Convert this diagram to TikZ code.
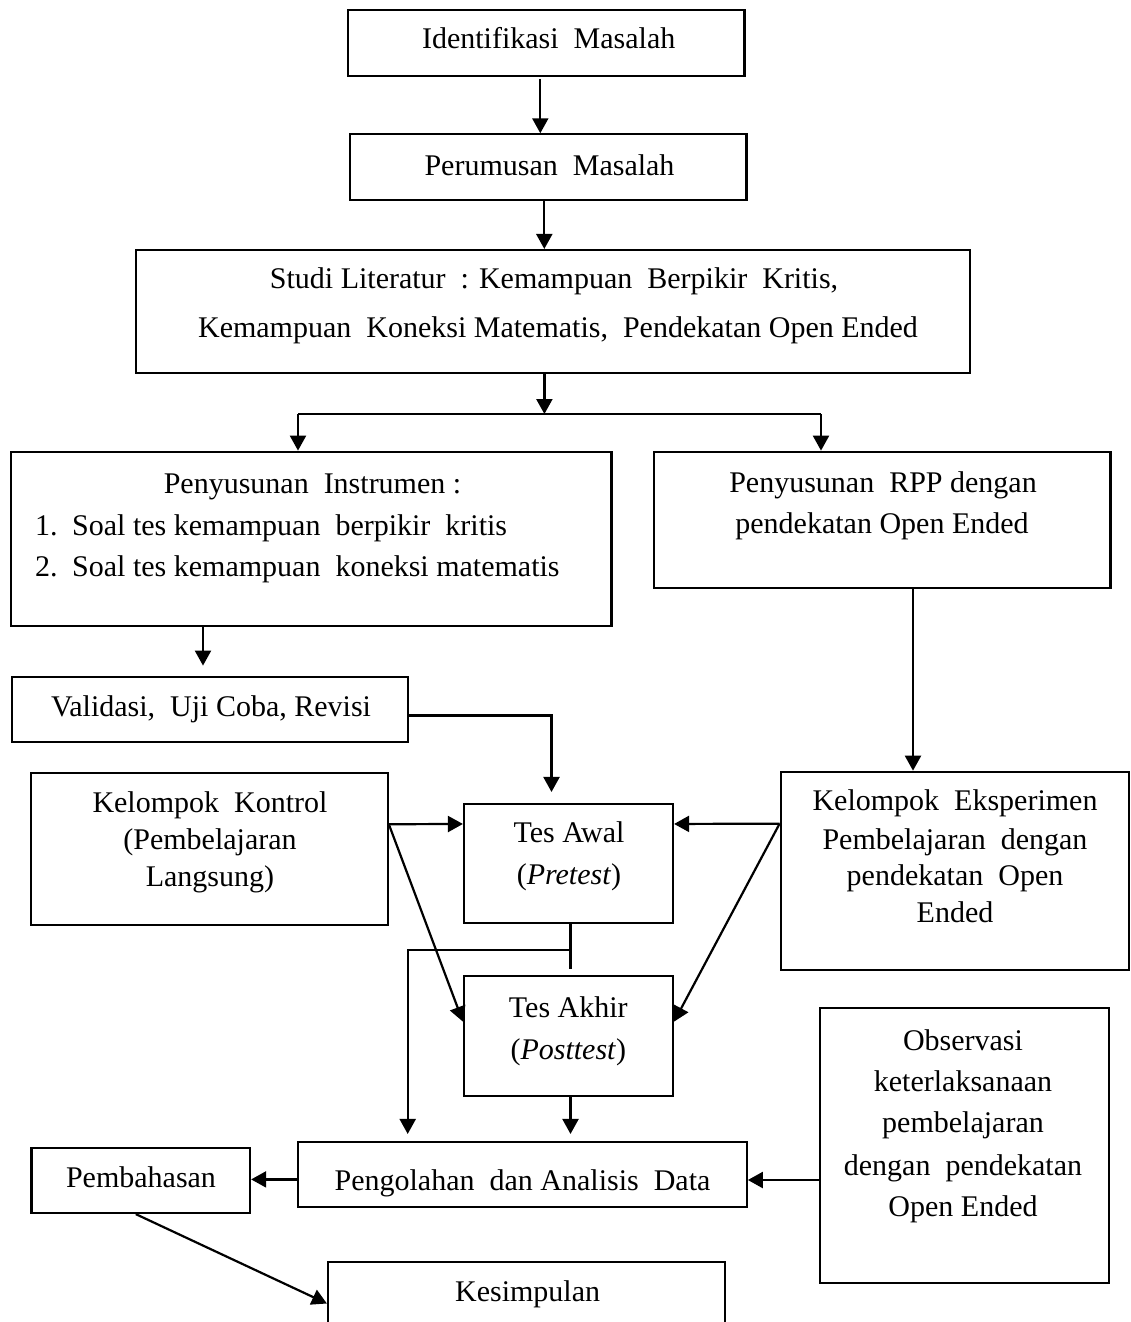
\documentclass[tikz,border=0pt]{standalone}
\usepackage{fontspec}
\setmainfont{Liberation Serif}
\usetikzlibrary{arrows.meta}
\begin{document}
\begin{tikzpicture}[x=1pt,y=-1pt,
  box/.style={draw, line width=2.2pt, inner sep=0pt},
  txt/.style={inner sep=0pt, anchor=base, font=\fontsize{30}{36}\selectfont},
  arr/.style={line width=2.2pt, -{Triangle[length=15pt,width=16pt]}},
  ln/.style={line width=2.2pt}]
\useasboundingbox (0,0) rectangle (1131,1322);
\clip (0,0) rectangle (1131,1322);

% boxes
\node[box, minimum width=396.5pt, minimum height=65.7pt] (ident) at (546.3,42.9) {};
\node[box, minimum width=396.5pt, minimum height=65.7pt] (perum) at (548.3,167.2) {};
\node[box, minimum width=834pt, minimum height=123.3pt] (studi) at (552.7,311.7) {};
\node[box, minimum width=600.7pt, minimum height=174pt] (instr) at (311.2,538.7) {};
\node[box, minimum width=456.5pt, minimum height=136pt] (rpp) at (882.3,519.7) {};
\node[box, minimum width=396.6pt, minimum height=65.6pt] (valid) at (210,709.5) {};
\node[box, minimum width=356.7pt, minimum height=151.7pt] (kontrol) at (209.4,849.2) {};
\node[box, minimum width=209pt, minimum height=118.7pt] (awal) at (568.5,863.4) {};
\node[box, minimum width=348.6pt, minimum height=198.3pt] (eksp) at (955,870.9) {};
\node[box, minimum width=209pt, minimum height=120pt] (akhir) at (568.5,1035.7) {};
\node[box, minimum width=448.7pt, minimum height=65.3pt] (olah) at (522.4,1174.4) {};
\node[box, minimum width=218.5pt, minimum height=65pt] (bahas) at (140.8,1180.5) {};
\node[box, minimum width=289.3pt, minimum height=274.7pt] (obs) at (964.7,1145.4) {};
\node[box, minimum width=397pt, minimum height=83pt] (kesim) at (526.5,1303.5) {};

% texts
\node[txt] (tident) at (548.7,48.3) {Identifikasi\ \ Masalah};
\node[txt] (tperum) at (549.5,175) {Perumusan\ \ Masalah};
\node[txt] (tstudiA) at (554,288) {Studi Literatur\ \ : Kemampuan\ \ Berpikir\ \ Kritis,};
\node[txt] (tstudiB) at (558,337) {Kemampuan\ \ Koneksi Matematis,\ \ Pendekatan Open Ended};
\node[txt] (tinstrA) at (312.5,493.3) {Penyusunan\ \ Instrumen :};
\node[txt, anchor=base west] (tinstrB) at (35,535) {\makebox[37pt][l]{1.}Soal tes kemampuan\ \ berpikir\ \ kritis};
\node[txt, anchor=base west] (tinstrC) at (35,576.7) {\makebox[37pt][l]{2.}Soal tes kemampuan\ \ koneksi matematis};
\node[txt] (trppA) at (883,492.3) {Penyusunan\ \ RPP dengan};
\node[txt] (trppB) at (882,533.3) {pendekatan Open Ended};
\node[txt] (tvalid) at (211,716.7) {Validasi,\ \ Uji Coba, Revisi};
\node[txt] (tkonA) at (210,812.3) {Kelompok\ \ Kontrol};
\node[txt] (tkonB) at (210,849) {(Pembelajaran};
\node[txt] (tkonC) at (210,886.7) {Langsung)};
\node[txt] (tawalA) at (569,842.5) {Tes Awal};
\node[txt] (tawalB) at (569,884.5) {(\textit{Pretest})};
\node[txt] (teksA) at (955,810.7) {Kelompok\ \ Eksperimen};
\node[txt] (teksB) at (955,849) {Pembelajaran\ \ dengan};
\node[txt] (teksC) at (955,885) {pendekatan\ \ Open};
\node[txt] (teksD) at (955,922.7) {Ended};
\node[txt] (takhA) at (568.3,1017.3) {Tes Akhir};
\node[txt] (takhB) at (568.3,1059) {(\textit{Posttest})};
\node[txt] (tolah) at (522.5,1190) {Pengolahan\ \ dan Analisis\ \ Data};
\node[txt] (tbahas) at (141,1187) {Pembahasan};
\node[txt] (tobsA) at (963,1050) {Observasi};
\node[txt] (tobsB) at (963,1091.7) {keterlaksanaan};
\node[txt] (tobsC) at (963,1132) {pembelajaran};
\node[txt] (tobsD) at (963,1175.7) {dengan\ \ pendekatan};
\node[txt] (tobsE) at (963,1216.7) {Open Ended};
\node[txt] (tkesim) at (527.6,1301.7) {Kesimpulan};

% connectors
\draw[arr] ([xshift=-6pt,yshift=-2pt]ident.south) -- ([xshift=-8pt]perum.north);
\draw[arr] ([xshift=-4pt]perum.south) -- ([xshift=-4pt]studi.north -| perum.south);
\coordinate (jl) at (298,414);
\coordinate (jr) at (821,414);
\coordinate (jm) at (544.4,414);
\draw[arr] (studi.south -| jm) -- (jm);
\draw[ln] (jl) -- (jr);
\draw[arr] (jl) -- (instr.north -| jl);
\draw[arr] (jr) -- (rpp.north -| jr);
\draw[arr, shorten >=10pt] ([xshift=-7pt]valid.north |- instr.south) -- ([xshift=-7pt]valid.north);
\draw[arr, shorten >=11pt] ([yshift=-6pt]valid.east) -| ([xshift=-17pt]awal.north);
\draw[arr] ([xshift=30.7pt]rpp.south) -- ([xshift=30.7pt]rpp.south |- eksp.north);
\draw[arr] ([yshift=-52pt]kontrol.north east) -- ([yshift=-21pt]awal.north west);
\draw[arr] ([yshift=-53pt]eksp.north west) -- ([yshift=-21pt]awal.north east);
\draw[arr] ([yshift=-52pt]kontrol.north east) -- ([yshift=-47pt]akhir.north west);
\draw[arr] ([yshift=-53pt]eksp.north west) -- ([yshift=-47pt]akhir.north east);
\draw[ln] ([xshift=2pt]awal.south) -- ([xshift=2pt,yshift=6pt]akhir.north);
\coordinate (br) at (570.7,950);
\draw[arr, shorten >=6.7pt] (br) -| ([xshift=-114.7pt]olah.north);
\draw[arr, shorten >=6.7pt] ([xshift=2pt]akhir.south) -- ([xshift=2pt]akhir.south |- olah.north);
\draw[arr] ([yshift=-5pt]olah.west) -- ([yshift=-5pt]olah.west -| bahas.east);
\draw[arr] ([yshift=-34.6pt]obs.west) -- ([yshift=-5.6pt]olah.east);
\draw[arr] ([xshift=-5pt]bahas.south) -- (kesim.west);
\end{tikzpicture}
\end{document}
